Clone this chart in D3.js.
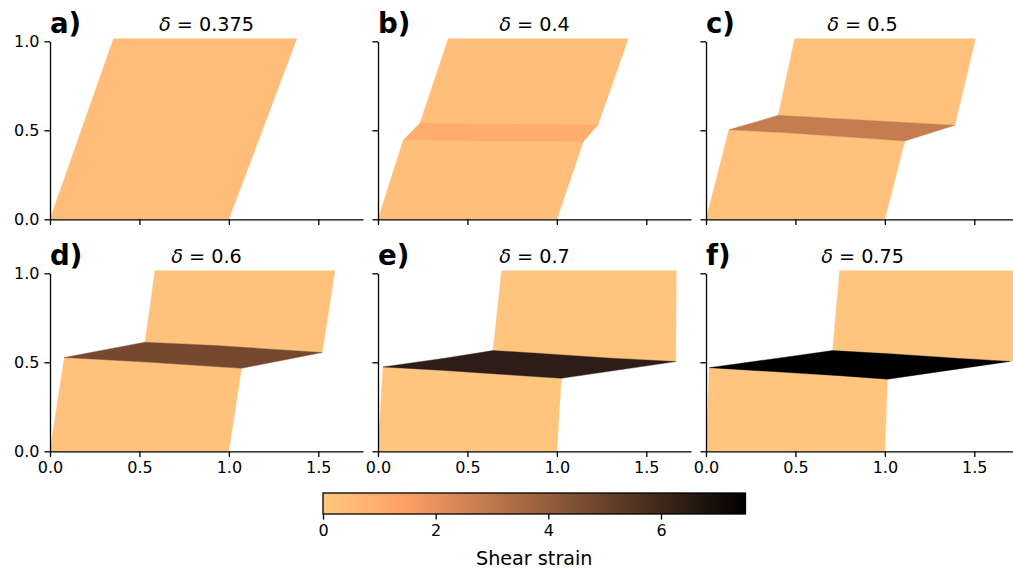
<!DOCTYPE html>
<html>
<head>
<meta charset="utf-8">
<script src="https://cdn.jsdelivr.net/npm/d3@7"></script>
<style>
  html, body { margin: 0; padding: 0; background: #fff; }
  svg { display: block; font-family: "DejaVu Sans", sans-serif; }
</style>
</head>
<body>
<svg id="fig" width="1013" height="576"></svg>
<script>
// Panel labels and imposed top displacement for each snapshot
const panelLabels = ["a)", "b)", "c)", "d)", "e)", "f)"];
const deltas = ["0.375", "0.4", "0.5", "0.6", "0.7", "0.75"];

// Shear strain inside the intact blocks and inside the localised band
const blockStrain = [0.375, 0.33, 0.25, 0.18, 0.12, 0.08];
const bandStrain = [null, 1.0, 2.8, 4.7, 6.4, 7.4];

// Deformed outline of the lower block (x, y) for each snapshot
const lowerBlocks = [
  [[0, 0], [1.0, 0], [1.38, 1.015], [0.355, 1.015]],
  [[0, 0], [1.0, 0], [1.148, 0.436], [0.141, 0.444]],
  [[0, 0], [1.0, 0], [1.112, 0.44], [0.796, 0.462], [0.423, 0.487], [0.128, 0.503]],
  [[0, 0], [1.0, 0], [1.071, 0.466], [0.559, 0.50], [0.08, 0.527]],
  [[0, 0], [1.0, 0], [1.025, 0.41], [0.745, 0.429], [0.373, 0.454], [0.028, 0.474]],
  [[0, 0], [1.0, 0], [1.015, 0.405], [0.745, 0.425], [0.373, 0.448], [0.018, 0.47]]
];

// Deformed outline of the upper block (x, y) for each snapshot
const upperBlocks = [
  [],
  [[0.235, 0.541], [1.231, 0.532], [1.399, 1.015], [0.393, 1.015]],
  [[0.404, 0.584], [0.796, 0.562], [1.392, 0.528], [1.507, 1.015], [0.496, 1.015]],
  [[0.531, 0.613], [0.931, 0.594], [1.522, 0.555], [1.593, 1.015], [0.587, 1.015]],
  [[0.643, 0.566], [0.932, 0.548], [1.304, 0.523], [1.665, 0.504], [1.668, 1.015], [0.691, 1.015]],
  [[0.708, 0.566], [1.025, 0.548], [1.397, 0.523], [1.70, 0.505], [1.75, 0.505], [1.75, 1.015], [0.747, 1.015]]
];

// Deformed outline of the shear band (x, y) for each snapshot
const bands = [
  [],
  [[0.141, 0.444], [1.148, 0.436], [1.231, 0.532], [0.235, 0.541]],
  [[0.128, 0.503], [0.404, 0.584], [0.796, 0.562], [1.392, 0.528], [1.112, 0.44], [0.796, 0.462], [0.423, 0.487]],
  [[0.08, 0.527], [0.531, 0.613], [0.931, 0.594], [1.522, 0.555], [1.071, 0.466], [0.559, 0.50]],
  [[0.028, 0.474], [0.373, 0.523], [0.643, 0.566], [0.932, 0.548], [1.304, 0.523], [1.665, 0.504], [1.025, 0.41], [0.745, 0.429], [0.373, 0.454]],
  [[0.018, 0.47], [0.373, 0.519], [0.708, 0.566], [1.025, 0.548], [1.397, 0.523], [1.70, 0.505], [1.015, 0.405], [0.745, 0.425], [0.373, 0.448]]
];

// Axis ticks
const xTicks = [0, 0.5, 1.0, 1.5];
const yTicks = [0, 0.5, 1.0];
const cbarTicks = [0, 2, 4, 6];
const strainMax = 7.5;

// Reversed "copper" colour map
function copperR(v) {
  const t = Math.max(0, Math.min(1, v / strainMax));
  const s = 1 - t;
  const r = Math.min(1, s / 0.809524);
  const g = 0.7812 * s;
  const b = 0.4975 * s;
  return d3.rgb(r * 255, g * 255, b * 255).formatRgb();
}

const svg = d3.select("#fig");
const defs = svg.append("defs");

// slight softening of the band boundary
defs.append("filter").attr("id", "soft")
  .attr("x", "-5%").attr("y", "-20%").attr("width", "110%").attr("height", "140%")
  .append("feGaussianBlur").attr("stdDeviation", 0.6);

// Layout of the 2 x 3 grid of panels
const colLeft = [50, 378, 706];
const rowTop = [41.3, 273.3];
const axW = 313, axH = 178;
const tickFont = 16;

const x = d3.scaleLinear().domain([0, 1.75]).range([0, axW]);
const y = d3.scaleLinear().domain([0, 1]).range([axH, 0]);
const poly = d3.line().x(d => x(d[0])).y(d => y(d[1]));

panelLabels.forEach((lab, i) => {
  const col = i % 3, row = Math.floor(i / 3);
  const g = svg.append("g").attr("transform", `translate(${colLeft[col]},${rowTop[row]})`);

  // blocks
  [lowerBlocks[i], upperBlocks[i]].forEach(pts => {
    if (!pts.length) return;
    const c = copperR(blockStrain[i]);
    g.append("path").attr("d", poly(pts) + "Z")
      .attr("fill", c).attr("stroke", c).attr("stroke-width", 0.4);
  });
  // shear band
  if (bands[i].length) {
    const c = copperR(bandStrain[i]);
    g.append("path").attr("d", poly(bands[i]) + "Z")
      .attr("fill", c).attr("stroke", c).attr("stroke-width", 0.4)
      .attr("filter", "url(#soft)");
  }

  // axes
  const xa = g.append("g").attr("transform", `translate(0,${axH})`)
    .call(d3.axisBottom(x).tickValues(xTicks).tickSizeOuter(0).tickSizeInner(5.6).tickPadding(5)
      .tickFormat(row === 1 ? d3.format(".1f") : () => ""));
  const ya = g.append("g")
    .call(d3.axisLeft(y).tickValues(yTicks).tickSizeOuter(0).tickSizeInner(5.6).tickPadding(5)
      .tickFormat(col === 0 ? d3.format(".1f") : () => ""));
  [xa, ya].forEach(a => {
    a.select(".domain").attr("stroke", "#000").attr("stroke-width", 1.3);
    a.selectAll(".tick line").attr("stroke", "#000").attr("stroke-width", 1.3);
    a.selectAll(".tick text").attr("fill", "#000").style("font-size", tickFont + "px")
      .style("font-family", "DejaVu Sans");
  });

  // title
  const t = g.append("text").attr("x", axW / 2).attr("y", -10.5)
    .attr("text-anchor", "middle").style("font-size", "19.2px");
  t.append("tspan").style("font-style", "italic").text("δ");
  t.append("tspan").text(" = " + deltas[i]);

  // panel label
  g.append("text").attr("x", 0).attr("y", -8.5)
    .style("font-size", "27.6px").style("font-weight", "bold").text(lab);
});

// Colour bar
const cb = { x0: 323, x1: 745.5, y0: 493, h: 21 };
const cx = d3.scaleLinear().domain([0, strainMax]).range([cb.x0, cb.x1]);
const grad = defs.append("linearGradient").attr("id", "cmap")
  .attr("x1", "0%").attr("x2", "100%");
d3.range(0, 1.0001, 0.02).forEach(f => {
  grad.append("stop").attr("offset", (f * 100) + "%").attr("stop-color", copperR(f * strainMax));
});
svg.append("rect").attr("x", cb.x0).attr("y", cb.y0).attr("width", cb.x1 - cb.x0).attr("height", cb.h)
  .attr("fill", "url(#cmap)").attr("stroke", "#000").attr("stroke-width", 1.3);
const ca = svg.append("g").attr("transform", `translate(0,${cb.y0 + cb.h})`)
  .call(d3.axisBottom(cx).tickValues(cbarTicks).tickSizeOuter(0).tickSizeInner(5.6).tickPadding(5)
    .tickFormat(d3.format("d")));
ca.select(".domain").remove();
ca.selectAll(".tick line").attr("stroke", "#000").attr("stroke-width", 1.3);
ca.selectAll(".tick text").attr("fill", "#000").style("font-size", tickFont + "px")
  .style("font-family", "DejaVu Sans");
svg.append("text").attr("x", (cb.x0 + cb.x1) / 2).attr("y", 565)
  .attr("text-anchor", "middle").style("font-size", "19.2px").text("Shear strain");
</script>
</body>
</html>
